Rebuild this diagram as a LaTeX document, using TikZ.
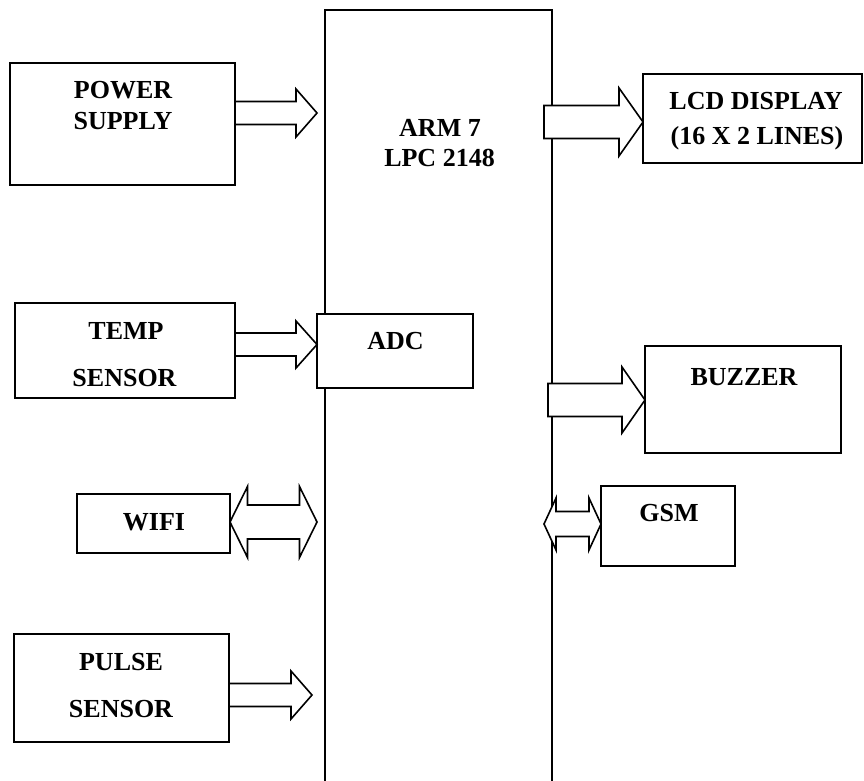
\documentclass[tikz,border=0pt]{standalone}
\usepackage{fontspec}
\setmainfont{Liberation Serif}
\usetikzlibrary{calc}
\tikzset{
  blk/.style={draw, line width=1.8pt, fill=white, inner sep=0pt, outer sep=0pt},
  main/.style={draw, line width=1.7pt, inner sep=0pt, outer sep=0pt},
  arr/.style={draw, line width=1.6pt, fill=white, line join=miter},
  lbl/.style={anchor=base, inner sep=0pt, font=\fontsize{26}{30}\selectfont\bfseries}
}
\newcommand{\barrow}[5]{% tail, tip, headlen, shaft half, head half
  \path[arr] let \p1=(#1), \p2=(#2) in
    (\x1,\y1+#4) -- (\x2-#3,\y1+#4) -- (\x2-#3,\y1+#5) -- (\x2,\y1)
    -- (\x2-#3,\y1-#5) -- (\x2-#3,\y1-#4) -- (\x1,\y1-#4) -- cycle;}
\newcommand{\dbarrow}[5]{% left tip, right tip, headlen, shaft half, head half
  \path[arr] let \p1=(#1), \p2=(#2) in
    (\x1,\y1) -- (\x1+#3,\y1+#5) -- (\x1+#3,\y1+#4) -- (\x2-#3,\y1+#4)
    -- (\x2-#3,\y1+#5) -- (\x2,\y1) -- (\x2-#3,\y1-#5) -- (\x2-#3,\y1-#4)
    -- (\x1+#3,\y1-#4) -- (\x1+#3,\y1-#5) -- cycle;}
\begin{document}
\begin{tikzpicture}[x=1pt,y=-1pt]
\useasboundingbox[fill=white] (0,0) rectangle (864,781);
% main controller
\node[main, minimum width=227pt, minimum height=790pt] (arm) at (438.5,405) {};
\node[lbl] (armt1) at (440,136) {ARM 7};
\node[lbl] (armt2) at (439.5,166) {LPC 2148};
\node[blk, minimum width=156pt, minimum height=74pt] (adc) at (395,351) {};
\node[lbl] (adct) at (395.5,349) {ADC};
% peripheral blocks
\node[blk, minimum width=225pt, minimum height=122pt] (ps) at (122.5,124) {};
\node[lbl] (pst1) at (123,99) {POWER};
\node[lbl] (pst2) at (123,130) {SUPPLY};
\node[blk, minimum width=220pt, minimum height=95pt] (temp) at (125,350.5) {};
\node[lbl] (tempt1) at (126,339) {TEMP};
\node[lbl] (tempt2) at (124.5,386) {SENSOR};
\node[blk, minimum width=153pt, minimum height=59pt] (wifi) at (153.5,523.5) {};
\node[lbl] (wifit) at (154,530) {WIFI};
\node[blk, minimum width=215pt, minimum height=108pt] (pulse) at (121.5,688) {};
\node[lbl] (pulset1) at (121,670) {PULSE};
\node[lbl] (pulset2) at (121,717) {SENSOR};
\node[blk, minimum width=219pt, minimum height=89pt] (lcd) at (752.5,118.5) {};
\node[lbl] (lcdt1) at (756,110) {LCD DISPLAY};
\node[lbl] (lcdt2) at (757,144) {(16 X 2 LINES)};
\node[blk, minimum width=196pt, minimum height=107pt] (buzzer) at (743,399.5) {};
\node[lbl] (buzt) at (744,385) {BUZZER};
\node[blk, minimum width=134pt, minimum height=80pt] (gsm) at (668,526) {};
\node[lbl] (gsmt) at (669,521) {GSM};
% arrow end points
\coordinate (psTail) at (ps.east |- 0,113);
\coordinate (psTip) at (317,113);
\coordinate (tempTail) at (temp.east |- 0,344.5);
\coordinate (tempTip) at (adc.west |- 0,344.5);
\coordinate (wifiL) at (wifi.east |- 0,522);
\coordinate (wifiR) at (317,522);
\coordinate (pulseTail) at (pulse.east |- 0,695);
\coordinate (pulseTip) at (312,695);
\coordinate (lcdTail) at (544,122);
\coordinate (lcdTip) at (lcd.west |- 0,122);
\coordinate (buzTail) at (548,400);
\coordinate (buzTip) at (buzzer.west |- 0,400);
\coordinate (gsmL) at (544,524);
\coordinate (gsmR) at (gsm.west |- 0,524);
% block arrows
\barrow{psTail}{psTip}{21pt}{11.5pt}{24pt}
\barrow{tempTail}{tempTip}{21pt}{11.5pt}{23.5pt}
\dbarrow{wifiL}{wifiR}{17.5pt}{17pt}{35.5pt}
\barrow{pulseTail}{pulseTip}{21pt}{11.5pt}{24pt}
\barrow{lcdTail}{lcdTip}{24pt}{16.5pt}{34pt}
\barrow{buzTail}{buzTip}{23pt}{16.5pt}{33pt}
\dbarrow{gsmL}{gsmR}{12pt}{12.5pt}{26pt}
\end{tikzpicture}
\end{document}
